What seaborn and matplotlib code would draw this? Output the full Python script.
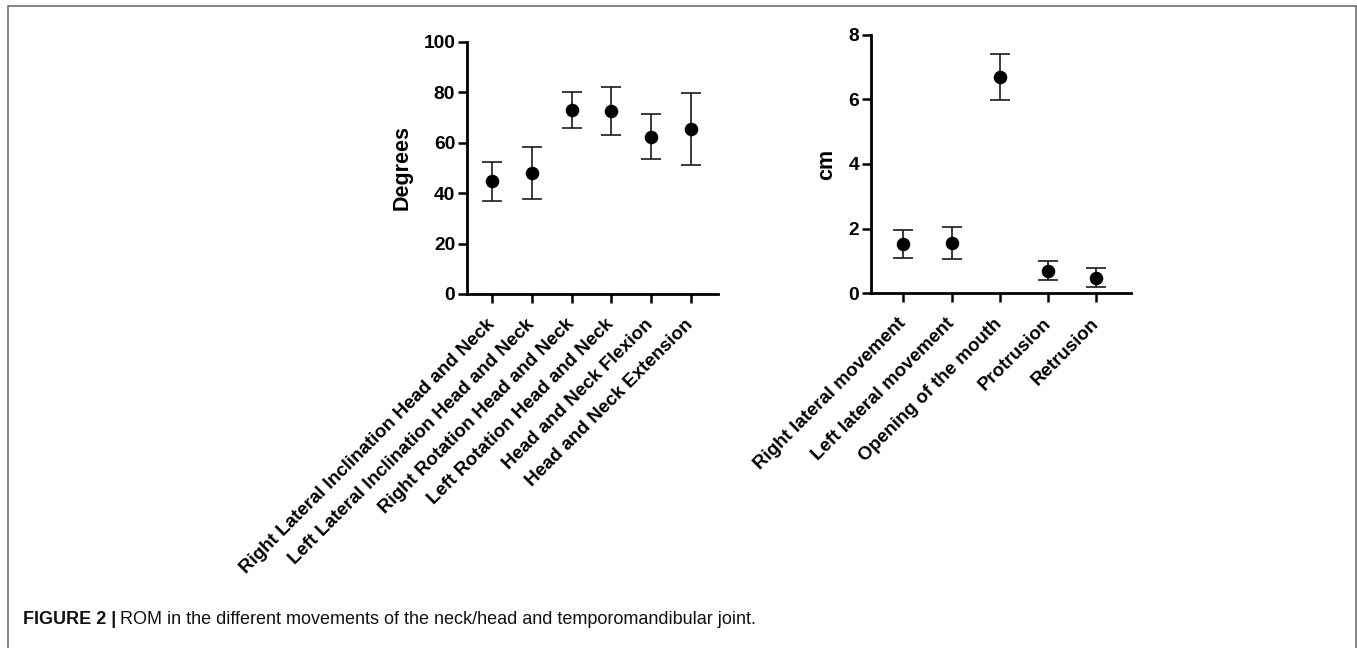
import matplotlib
matplotlib.use("Agg")
import matplotlib.pyplot as plt
import seaborn as sns
import pandas as pd
from matplotlib.patches import Rectangle

sns.set_theme(style="ticks")
plt.rcParams['font.family'] = ['Liberation Sans', 'DejaVu Sans']
plt.rcParams['text.color'] = 'black'
plt.rcParams['axes.labelcolor'] = 'black'
plt.rcParams['xtick.color'] = 'black'
plt.rcParams['ytick.color'] = 'black'

# ---- data ----
neck_categories = ["Right Lateral Inclination Head and Neck",
                   "Left Lateral Inclination Head and Neck",
                   "Right Rotation Head and Neck",
                   "Left Rotation Head and Neck",
                   "Head and Neck Flexion",
                   "Head and Neck Extension"]
neck_mean = [44.6, 48.0, 72.9, 72.6, 62.4, 65.5]
neck_sd = [7.8, 10.4, 7.2, 9.5, 9.0, 14.3]

tmj_categories = ["Right lateral movement",
                  "Left lateral movement",
                  "Opening of the mouth",
                  "Protrusion",
                  "Retrusion"]
tmj_mean = [1.52, 1.55, 6.68, 0.70, 0.48]
tmj_sd = [0.43, 0.50, 0.71, 0.30, 0.29]

neck_yticks = [0, 20, 40, 60, 80, 100]
tmj_yticks = [0, 2, 4, 6, 8]

W, H = 1357, 648
fig = plt.figure(figsize=(W / 100, H / 100), dpi=100)
fig.patch.set_facecolor("white")

def px_axes(x0, x1, ytop, ybot):
    return fig.add_axes([x0 / W, 1 - ybot / H, (x1 - x0) / W, (ybot - ytop) / H])

ax1 = px_axes(467, 718, 41.7, 294)
ax2 = px_axes(870.7, 1130.7, 34.7, 293.3)

def draw(ax, cats, mean, sd, yticks, ylabel, xlim):
    df = pd.DataFrame({"cat": cats, "mean": mean, "sd": sd})
    ax.errorbar(df["cat"], df["mean"], yerr=df["sd"], fmt="none",
                ecolor="#1a1a1a", elinewidth=1.2, capsize=7, capthick=1.2, zorder=2)
    sns.scatterplot(data=df, x="cat", y="mean", ax=ax, color="black",
                    s=95, edgecolor="black", linewidth=0, zorder=3, legend=False)
    ax.set_xlim(*xlim)
    ax.set_ylim(yticks[0], yticks[-1])
    ax.set_yticks(yticks)
    ax.set_yticklabels([str(t) for t in yticks], fontsize=13.8, fontweight="bold")
    ax.set_xticks(range(len(cats)))
    ax.set_xticklabels(cats, rotation=45, ha="right", va="center",
                       rotation_mode="anchor", fontsize=13.5, fontweight="bold")
    ax.set_xlabel("")
    ax.set_ylabel(ylabel, fontsize=15.5, fontweight="bold", labelpad=8)
    for s in ["top", "right"]:
        ax.spines[s].set_visible(False)
    for s in ["left", "bottom"]:
        ax.spines[s].set_linewidth(2)
        ax.spines[s].set_color("black")
    ax.tick_params(axis="both", direction="out", length=6.5, width=1.8, color="black")
    ax.tick_params(axis="x", pad=13.5)
    ax.tick_params(axis="y", pad=2)
    ax.set_facecolor("white")

draw(ax1, neck_categories, neck_mean, neck_sd, neck_yticks, "Degrees", (-0.64, 5.69))
draw(ax2, tmj_categories, tmj_mean, tmj_sd, tmj_yticks, "cm", (-0.675, 4.71))
for ax in (ax1, ax2):
    for c in ax.collections:
        c.set_clip_on(False)

# border frame
fig.add_artist(Rectangle((7.5 / W, -0.05), (1355.7 - 7.5) / W, 1.05 - 6 / H,
                         transform=fig.transFigure, fill=False,
                         edgecolor="#6e6e6e", linewidth=1.2))

# caption
cap_y = 1 - 620 / H
t1 = fig.text(23 / W, cap_y, "FIGURE 2 |", fontsize=13, fontweight="bold",
              va="center", ha="left", color="#111111")
fig.canvas.draw()
bb = t1.get_window_extent(fig.canvas.get_renderer())
fig.text((bb.x1 + 4) / W, cap_y,
         "ROM in the different movements of the neck/head and temporomandibular joint.",
         fontsize=13, va="center", ha="left", color="#111111")

fig.savefig("out.png", dpi=100, facecolor="white")
